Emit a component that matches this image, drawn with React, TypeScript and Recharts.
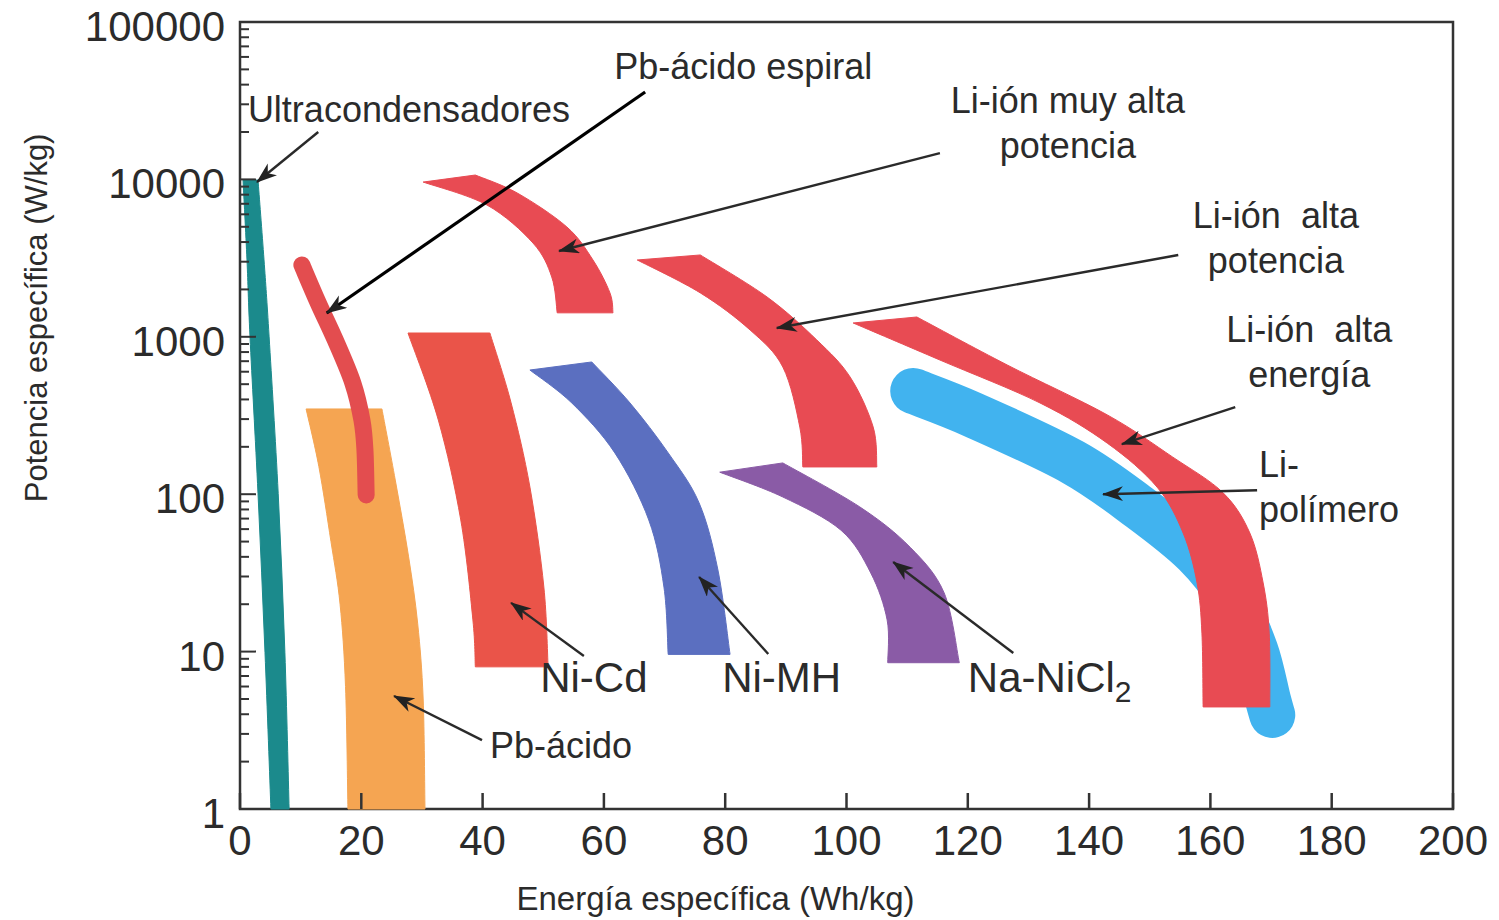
import React from 'react';
import { ComposedChart, XAxis, YAxis, Scatter, ReferenceArea } from 'recharts';

type P = { x: number; y: number };

// outlines of each region: energía (Wh/kg), potencia (W/kg)
// first edge runs top -> bottom, second edge bottom -> top
const ultracondensadores: P[] = [
  { x: 0.5, y: 9900 }, { x: 1.15, y: 3080 }, { x: 1.65, y: 1000 }, { x: 2.97, y: 101 },
  { x: 4.12, y: 9.9 }, { x: 5.1, y: 1 }, { x: 8.1, y: 1 }, { x: 7.4, y: 9.9 },
  { x: 6.3, y: 101 }, { x: 4.8, y: 1000 }, { x: 3.96, y: 3080 }, { x: 2.97, y: 9900 },
];
const pbAcido: P[] = [
  { x: 10.9, y: 348 }, { x: 13.0, y: 150 }, { x: 15.0, y: 50 }, { x: 16.5, y: 20 },
  { x: 17.4, y: 6 }, { x: 17.8, y: 1 }, { x: 30.5, y: 1 }, { x: 30.2, y: 5 },
  { x: 29.3, y: 15 }, { x: 27.8, y: 40 }, { x: 25.6, y: 123 }, { x: 23.4, y: 348 },
];
const pbEspiral: P[] = [
  { x: 10.2, y: 2860 }, { x: 12.9, y: 1640 }, { x: 15.7, y: 955 }, { x: 18.6, y: 509 },
  { x: 20.1, y: 296 }, { x: 20.6, y: 191 }, { x: 20.8, y: 99 },
];
const niCd: P[] = [
  { x: 27.7, y: 1057 }, { x: 32.7, y: 296 }, { x: 36.4, y: 68.6 }, { x: 38.4, y: 15.9 },
  { x: 38.8, y: 8.0 }, { x: 50.8, y: 8.0 }, { x: 50.1, y: 25.7 }, { x: 47.8, y: 111 },
  { x: 44.7, y: 380 }, { x: 41.2, y: 1057 },
];
const niMH: P[] = [
  { x: 47.8, y: 615 }, { x: 54.7, y: 380 }, { x: 61.8, y: 183 }, { x: 67.4, y: 68.6 },
  { x: 69.9, y: 25.7 }, { x: 70.6, y: 9.6 }, { x: 80.8, y: 9.6 }, { x: 78.8, y: 33 },
  { x: 75.7, y: 88 }, { x: 70.6, y: 183 }, { x: 64.3, y: 380 }, { x: 58.0, y: 692 },
];
const naNiCl2: P[] = [
  { x: 79.1, y: 138 }, { x: 89.5, y: 96 }, { x: 99.1, y: 59 }, { x: 104.0, y: 31.6 },
  { x: 106.7, y: 15.9 }, { x: 106.8, y: 8.5 }, { x: 118.6, y: 8.5 }, { x: 116.1, y: 23.6 },
  { x: 110.5, y: 46 }, { x: 102.2, y: 83 }, { x: 89.5, y: 158 },
];
const liMuyAltaPot: P[] = [
  { x: 30.2, y: 9620 }, { x: 40.7, y: 6880 }, { x: 48.3, y: 3945 }, { x: 51.4, y: 2400 },
  { x: 52.3, y: 1420 }, { x: 61.5, y: 1420 }, { x: 61.0, y: 1900 }, { x: 58.2, y: 3076 },
  { x: 53.9, y: 4985 }, { x: 45.7, y: 8200 }, { x: 38.8, y: 10660 },
];
const liAltaPot: P[] = [
  { x: 65.5, y: 3076 }, { x: 75.9, y: 1900 }, { x: 84.1, y: 1105 }, { x: 89.5, y: 643 },
  { x: 92.3, y: 267 }, { x: 92.8, y: 149 }, { x: 105.0, y: 149 }, { x: 104.4, y: 267 },
  { x: 100.6, y: 555 }, { x: 95.1, y: 955 }, { x: 86.9, y: 1790 }, { x: 75.9, y: 3311 },
];
const liAltaEnergia: P[] = [
  { x: 101.1, y: 1224 }, { x: 115.4, y: 712 }, { x: 131.9, y: 380 }, { x: 143.0, y: 211 },
  { x: 151.2, y: 111 }, { x: 155.5, y: 56.7 }, { x: 157.8, y: 27.3 }, { x: 158.6, y: 13.1 },
  { x: 158.8, y: 4.45 }, { x: 169.8, y: 4.45 }, { x: 169.7, y: 13.1 }, { x: 168.7, y: 27.3 },
  { x: 166.5, y: 56.7 }, { x: 162.1, y: 102 }, { x: 153.8, y: 172 }, { x: 143.0, y: 319 },
  { x: 126.5, y: 662 }, { x: 111.6, y: 1336 },
];
const liPolimero: P[] = [
  { x: 111.0, y: 453 }, { x: 120.9, y: 319 }, { x: 137.3, y: 160 }, { x: 148.4, y: 81.7 },
  { x: 157.5, y: 42.3 }, { x: 163.6, y: 21.3 }, { x: 167.4, y: 10.2 }, { x: 169.5, y: 4.93 },
  { x: 170.2, y: 3.96 },
];

const xTicks = [0, 20, 40, 60, 80, 100, 120, 140, 160, 180, 200];
const yMajor = [1, 10, 100, 1000, 10000, 100000];
const minorSteps = [2, 3, 4, 5, 6, 7, 8, 9];
const yTicks = [...yMajor, ...yMajor.slice(0, 5).flatMap((d) => minorSteps.map((m) => d * m))];

// annotations
const notes = [
  { x: 1.3, y: 23200, lines: ['Ultracondensadores'], anchor: 'start' },
  { x: 61.7, y: 43400, lines: ['Pb-ácido espiral'], anchor: 'start' },
  { x: 136.5, y: 26400, lines: ['Li-ión muy alta', 'potencia'], anchor: 'middle' },
  { x: 170.8, y: 4910, lines: ['Li-ión  alta', 'potencia'], anchor: 'middle' },
  { x: 176.3, y: 927, lines: ['Li-ión  alta', 'energía'], anchor: 'middle' },
  { x: 168.0, y: 128, lines: ['Li-', 'polímero'], anchor: 'start' },
  { x: 41.2, y: 2.11, lines: ['Pb-ácido'], anchor: 'start' },
];
const cellNames = [
  { x: 49.5, y: 5.5, name: 'Ni-Cd', sub: '' },
  { x: 79.5, y: 5.5, name: 'Ni-MH', sub: '' },
  { x: 120.0, y: 5.5, name: 'Na-NiCl', sub: '2' },
];
const arrows = [
  { from: { x: 12.9, y: 20000 }, to: { x: 2.8, y: 9620 }, dark: false },
  { from: { x: 66.8, y: 35900 }, to: { x: 14.3, y: 1416 }, dark: true },
  { from: { x: 115.4, y: 14700 }, to: { x: 52.6, y: 3509 }, dark: false },
  { from: { x: 154.7, y: 3311 }, to: { x: 88.5, y: 1137 }, dark: false },
  { from: { x: 164.1, y: 358 }, to: { x: 145.4, y: 208 }, dark: false },
  { from: { x: 167.7, y: 106 }, to: { x: 142.3, y: 100 }, dark: false },
  { from: { x: 127.5, y: 9.8 }, to: { x: 107.7, y: 37.1 }, dark: false },
  { from: { x: 87.1, y: 9.66 }, to: { x: 75.7, y: 29.8 }, dark: false },
  { from: { x: 56.7, y: 9.38 }, to: { x: 44.7, y: 20.4 }, dark: false },
  { from: { x: 39.9, y: 2.74 }, to: { x: 25.4, y: 5.22 }, dark: false },
];

// split = number of points on the first edge
const bands = [
  { key: 'pb', data: pbAcido, split: 6, color: '#f5a552' },
  { key: 'uc', data: ultracondensadores, split: 6, color: '#1b8a8c' },
  { key: 'nicd', data: niCd, split: 5, color: '#ea5449' },
  { key: 'nimh', data: niMH, split: 6, color: '#5b6fc0' },
  { key: 'nacl', data: naNiCl2, split: 6, color: '#8a5ba6' },
  { key: 'limap', data: liMuyAltaPot, split: 5, color: '#e84b53' },
  { key: 'liap', data: liAltaPot, split: 6, color: '#e84b53' },
];

const FONT = "'Liberation Sans', Arial, Helvetica, sans-serif";
const INK = '#2b2b2b';
const Nothing = () => <g />;

// catmull-rom through pixel points (already scaled by recharts)
function smooth(pts: { x: number; y: number }[]) {
  let d = '';
  for (let i = 0; i < pts.length - 1; i++) {
    const p0 = pts[i - 1] || pts[i];
    const p1 = pts[i];
    const p2 = pts[i + 1];
    const p3 = pts[i + 2] || p2;
    const c1x = p1.x + (p2.x - p0.x) / 6;
    const c1y = p1.y + (p2.y - p0.y) / 6;
    const c2x = p2.x - (p3.x - p1.x) / 6;
    const c2y = p2.y - (p3.y - p1.y) / 6;
    d += ` C${c1x},${c1y} ${c2x},${c2y} ${p2.x},${p2.y}`;
  }
  return d;
}

const bandLine = (split: number, color: string) => (props: any) => {
  const pts = props.points || [];
  if (pts.length < 3) return <g />;
  const a = pts.slice(0, split);
  const b = pts.slice(split);
  const d = `M${a[0].x},${a[0].y}${smooth(a)} L${b[0].x},${b[0].y}${smooth(b)} Z`;
  return <path d={d} fill={color} stroke={color} strokeWidth={1} />;
};

const strokeLine = (color: string, width: number) => (props: any) => {
  const pts = props.points || [];
  if (pts.length < 2) return <g />;
  const d = `M${pts[0].x},${pts[0].y}${smooth(pts)}`;
  return <path d={d} fill="none" stroke={color} strokeWidth={width} strokeLinecap="round" strokeLinejoin="round" />;
};

const YTick = (props: any) => {
  const { x, y, payload } = props;
  const major = yMajor.includes(payload.value);
  return (
    <g>
      <line x1={x} x2={x + (major ? 16 : 9)} y1={y} y2={y} stroke="#333" strokeWidth={2} />
      {major && (
        <text x={x - 15} y={y + 19} textAnchor="end" fontSize={42} fontFamily={FONT} fill={INK}>
          {payload.value}
        </text>
      )}
    </g>
  );
};

const XTick = (props: any) => {
  const { x, y, payload } = props;
  return (
    <g>
      <line x1={x} x2={x} y1={y} y2={y - 16} stroke="#333" strokeWidth={2.5} />
      <text x={x} y={y + 46} textAnchor="middle" fontSize={42} fontFamily={FONT} fill={INK}>
        {payload.value}
      </text>
    </g>
  );
};

const NoteShape = (props: any) => {
  const { cx, cy, payload } = props;
  return (
    <text x={cx} y={cy} textAnchor={payload.anchor} fontSize={36} fontFamily={FONT} fill={INK} style={{ whiteSpace: 'pre' }}>
      {payload.lines.map((l: string, i: number) => (
        <tspan key={i} x={cx} dy={i === 0 ? 0 : 45}>{l}</tspan>
      ))}
    </text>
  );
};

const CellShape = (props: any) => {
  const { cx, cy, payload } = props;
  return (
    <text x={cx} y={cy} fontSize={42} fontFamily={FONT} fill={INK}>
      {payload.name}
      {payload.sub && <tspan fontSize={30} dy={10}>{payload.sub}</tspan>}
    </text>
  );
};

export default function App() {
  return (
    <div style={{ position: 'absolute', left: 0, top: 0, background: '#fff' }}>
      <ComposedChart width={1499} height={920} margin={{ top: 22, right: 46, bottom: 0, left: 0 }}>
        <defs>
          <marker id="arrowHead" markerUnits="userSpaceOnUse" markerWidth={22} markerHeight={16} refX={20} refY={7.5} orient="auto">
            <path d="M0,0 L21,7.5 L0,15 L6,7.5 Z" fill="#222" />
          </marker>
        </defs>
        <XAxis
          type="number"
          dataKey="x"
          domain={[0, 200]}
          ticks={xTicks}
          interval={0}
          height={111}
          tickSize={0}
          tickMargin={0}
          tickLine={false}
          axisLine={false}
          tick={<XTick />}
          label={{
            content: (p: any) => {
              const vb = p.viewBox;
              return (
                <text x={vb.x + vb.width * 0.392} y={vb.y + 101} textAnchor="middle" fontSize={33} fontFamily={FONT} fill={INK}>
                  Energía específica (Wh/kg)
                </text>
              );
            },
          }}
        />
        <YAxis
          type="number"
          dataKey="y"
          scale="log"
          domain={[1, 100000]}
          ticks={yTicks}
          interval={0}
          width={240}
          tickSize={0}
          tickMargin={0}
          tickLine={false}
          axisLine={false}
          tick={<YTick />}
          label={{
            content: (p: any) => {
              const vb = p.viewBox;
              const cx = vb.x + 36;
              const cy = vb.y + vb.height * 0.376;
              return (
                <text transform={`translate(${cx},${cy}) rotate(-90)`} textAnchor="middle" dominantBaseline="central" fontSize={31} fontFamily={FONT} fill={INK}>
                  Potencia específica (W/kg)
                </text>
              );
            },
          }}
        />
        {bands.map((b) => (
          <Scatter
            key={b.key}
            data={b.data}
            shape={Nothing}
            line={bandLine(b.split, b.color)}
            isAnimationActive={false}
          />
        ))}
        <Scatter data={pbEspiral} shape={Nothing} line={strokeLine('#e34d4f', 17)} isAnimationActive={false} />
        <Scatter data={liPolimero} shape={Nothing} line={strokeLine('#41b3ef', 46)} isAnimationActive={false} />
        <Scatter data={liAltaEnergia} shape={Nothing} line={bandLine(9, '#e84b53')} isAnimationActive={false} />
        {arrows.map((a, i) => (
          <Scatter
            key={'arrow' + i}
            data={[a.from, a.to]}
            shape={Nothing}
            line={{ fill: 'none', stroke: a.dark ? '#000' : '#2a2a2a', strokeWidth: a.dark ? 3.2 : 2.4, markerEnd: 'url(#arrowHead)' }}
            lineJointType="linear"
            isAnimationActive={false}
          />
        ))}
        <Scatter data={notes} shape={NoteShape} isAnimationActive={false} />
        <Scatter data={cellNames} shape={CellShape} isAnimationActive={false} />
        <ReferenceArea x1={0} x2={200} y1={1} y2={100000} fill="none" fillOpacity={0} stroke="#333" strokeWidth={2.5} />
      </ComposedChart>
    </div>
  );
}
